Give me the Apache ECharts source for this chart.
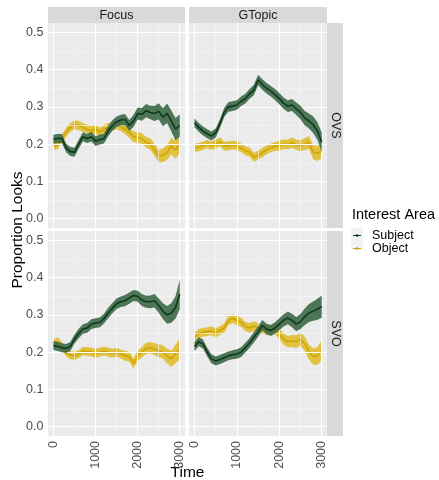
<!DOCTYPE html>
<html>
<head>
<meta charset="utf-8">
<script src="https://cdn.jsdelivr.net/npm/echarts@6/dist/echarts.min.js"></script>
<style>
html,body{margin:0;padding:0;background:#fff;}
#chart{width:439px;height:480px;}
</style>
</head>
<body>
<div id="chart"></div>
<script>
// ---- data ----
const times = [0,100,200,300,400,500,600,700,800,900,1000,1100,1200,1300,1400,1500,1600,1700,1800,1900,2000,2100,2200,2300,2400,2500,2600,2700,2800,2900,3000];
const columnsLabels = ['Focus', 'GTopic'];
const rowLabels = ['OVS', 'SVO'];
const seriesNames = ['Subject', 'Object'];
const xTickValues = [0, 1000, 2000, 3000];
const yTickValues = [0, 0.1, 0.2, 0.3, 0.4, 0.5];
const xMinorValues = [500, 1500, 2500];
const yMinorValues = [0.05, 0.15, 0.25, 0.35, 0.45];

const focusOVS_subject = [0.213,0.215,0.215,0.190,0.180,0.178,0.200,0.220,0.215,0.220,0.208,0.212,0.215,0.235,0.250,0.260,0.265,0.266,0.250,0.262,0.282,0.280,0.290,0.285,0.282,0.288,0.272,0.283,0.262,0.240,0.250];
const focusOVS_object  = [0.195,0.197,0.215,0.232,0.245,0.252,0.250,0.245,0.240,0.236,0.240,0.232,0.240,0.245,0.248,0.252,0.248,0.240,0.230,0.220,0.218,0.215,0.205,0.200,0.185,0.168,0.170,0.178,0.195,0.185,0.200];
const gtopicOVS_subject = [0.257,0.245,0.235,0.228,0.222,0.230,0.255,0.285,0.300,0.302,0.305,0.315,0.322,0.335,0.345,0.372,0.360,0.350,0.342,0.333,0.322,0.310,0.302,0.305,0.295,0.285,0.270,0.262,0.252,0.235,0.205];
const gtopicOVS_object  = [0.190,0.192,0.196,0.200,0.196,0.200,0.206,0.195,0.195,0.198,0.196,0.190,0.182,0.178,0.165,0.170,0.177,0.185,0.190,0.194,0.196,0.200,0.199,0.204,0.198,0.196,0.200,0.205,0.178,0.175,0.182];
const focusSVO_subject = [0.218,0.215,0.212,0.210,0.215,0.235,0.250,0.262,0.265,0.275,0.278,0.280,0.290,0.305,0.318,0.330,0.335,0.338,0.345,0.352,0.350,0.340,0.335,0.335,0.338,0.325,0.310,0.300,0.305,0.320,0.355];
const focusSVO_object  = [0.222,0.228,0.215,0.200,0.192,0.190,0.195,0.203,0.202,0.200,0.197,0.200,0.203,0.200,0.197,0.200,0.195,0.190,0.188,0.170,0.190,0.200,0.210,0.212,0.208,0.204,0.200,0.190,0.182,0.195,0.208];
const gtopicSVO_subject = [0.215,0.228,0.222,0.200,0.182,0.176,0.180,0.185,0.190,0.193,0.195,0.200,0.212,0.225,0.240,0.255,0.272,0.262,0.258,0.265,0.275,0.285,0.292,0.285,0.275,0.282,0.295,0.305,0.310,0.315,0.322];
const gtopicSVO_object  = [0.240,0.250,0.253,0.255,0.257,0.252,0.258,0.265,0.285,0.290,0.285,0.280,0.268,0.265,0.270,0.265,0.262,0.258,0.260,0.262,0.250,0.235,0.228,0.230,0.228,0.235,0.222,0.200,0.188,0.190,0.205];

// ribbon half-widths
const focusOVS_subject_hw = [0.012,0.012,0.012,0.012,0.012,0.012,0.012,0.012,0.012,0.013,0.013,0.013,0.013,0.014,0.014,0.014,0.014,0.015,0.015,0.016,0.016,0.017,0.018,0.018,0.020,0.022,0.024,0.026,0.028,0.030,0.030];
const focusOVS_object_hw  = [0.011,0.011,0.011,0.012,0.012,0.012,0.012,0.012,0.012,0.012,0.012,0.012,0.012,0.012,0.012,0.013,0.013,0.013,0.013,0.014,0.014,0.014,0.015,0.015,0.016,0.017,0.018,0.020,0.022,0.024,0.024];
const gtopicOVS_subject_hw = [0.012,0.012,0.012,0.012,0.012,0.012,0.012,0.012,0.013,0.013,0.013,0.013,0.013,0.013,0.014,0.014,0.014,0.014,0.014,0.015,0.015,0.015,0.016,0.016,0.017,0.018,0.019,0.020,0.022,0.024,0.026];
const gtopicOVS_object_hw  = [0.011,0.011,0.011,0.011,0.011,0.012,0.012,0.012,0.012,0.012,0.012,0.012,0.012,0.012,0.012,0.012,0.012,0.012,0.012,0.012,0.013,0.013,0.013,0.014,0.014,0.015,0.016,0.017,0.019,0.020,0.020];
const focusSVO_subject_hw = [0.012,0.012,0.012,0.012,0.012,0.012,0.013,0.013,0.013,0.013,0.013,0.013,0.013,0.014,0.014,0.014,0.014,0.015,0.015,0.015,0.015,0.016,0.016,0.017,0.018,0.019,0.021,0.024,0.026,0.030,0.040];
const focusSVO_object_hw  = [0.012,0.012,0.012,0.011,0.011,0.011,0.011,0.011,0.012,0.012,0.012,0.012,0.012,0.012,0.012,0.012,0.012,0.013,0.013,0.013,0.014,0.014,0.015,0.015,0.016,0.017,0.018,0.020,0.022,0.025,0.028];
const gtopicSVO_subject_hw = [0.012,0.012,0.012,0.012,0.012,0.012,0.012,0.012,0.012,0.012,0.013,0.013,0.013,0.013,0.014,0.014,0.014,0.014,0.015,0.015,0.016,0.016,0.017,0.018,0.019,0.020,0.022,0.024,0.026,0.028,0.030];
const gtopicSVO_object_hw  = [0.012,0.012,0.012,0.012,0.012,0.012,0.012,0.012,0.012,0.012,0.012,0.012,0.012,0.013,0.013,0.013,0.013,0.013,0.013,0.014,0.014,0.015,0.015,0.016,0.017,0.018,0.019,0.020,0.022,0.024,0.026];

const panels = [
  {subject: focusOVS_subject, object: focusOVS_object, subjectHW: focusOVS_subject_hw, objectHW: focusOVS_object_hw},
  {subject: gtopicOVS_subject, object: gtopicOVS_object, subjectHW: gtopicOVS_subject_hw, objectHW: gtopicOVS_object_hw},
  {subject: focusSVO_subject, object: focusSVO_object, subjectHW: focusSVO_subject_hw, objectHW: focusSVO_object_hw},
  {subject: gtopicSVO_subject, object: gtopicSVO_object, subjectHW: gtopicSVO_subject_hw, objectHW: gtopicSVO_object_hw}
];

// ---- style / layout ----
const FONT = 'Liberation Sans, Arial, sans-serif';
const colors = {
  Subject: {line: '#0E3A1A', band: '#3C6848'},
  Object: {line: '#CFA600', band: '#E0BD2E'}
};
const gridBoxes = [
  {left: 48, top: 23, width: 137, height: 205},
  {left: 189, top: 23, width: 138, height: 205},
  {left: 48, top: 231, width: 137, height: 205},
  {left: 189, top: 231, width: 138, height: 205}
];

const grids = gridBoxes.map(b => ({left: b.left, top: b.top, width: b.width, height: b.height, show: true, backgroundColor: '#EBEBEB', borderWidth: 0, containLabel: false}));

const xAxes = gridBoxes.map((b, i) => ({
  type: 'value', gridIndex: i, min: -130, max: 3125,
  axisLine: {show: false},
  splitLine: {show: false},
  axisTick: {show: i >= 2, customValues: xTickValues, length: 3.7, lineStyle: {color: '#333333', width: 1}},
  axisLabel: {show: i >= 2, customValues: xTickValues, rotate: 90, margin: 5, color: '#4D4D4D', fontSize: 12.5, fontFamily: FONT,
    formatter: v => String(v)}
}));
const yAxes = gridBoxes.map((b, i) => ({
  type: 'value', gridIndex: i, min: -0.025, max: 0.525,
  axisLine: {show: false},
  splitLine: {show: false},
  axisTick: {show: i % 2 === 0, customValues: yTickValues, length: 3.7, lineStyle: {color: '#333333', width: 1}},
  axisLabel: {show: i % 2 === 0, customValues: yTickValues, margin: 4.5, color: '#4D4D4D', fontSize: 12.5, fontFamily: FONT,
    formatter: v => v.toFixed(1)}
}));

function ribbonSeries(i, mean, hw, color, z) {
  const rows = times.map((t, k) => [t, mean[k] - hw[k], mean[k] + hw[k]]);
  return {
    type: 'custom', xAxisIndex: i, yAxisIndex: i, silent: true, z: z,
    data: rows,
    encode: {x: 0, y: [1, 2]},
    renderItem: function (params, api) {
      if (params.dataIndex !== 0) return null;
      const upper = rows.map(r => api.coord([r[0], r[2]]));
      const lower = rows.map(r => api.coord([r[0], r[1]])).reverse();
      return {type: 'polygon', shape: {points: upper.concat(lower)}, style: {fill: color, opacity: 0.9}};
    }
  };
}

const series = [];
panels.forEach((p, i) => {
  // gridlines via markLine (through axis scales)
  const md = [];
  xMinorValues.forEach(v => md.push({xAxis: v, lineStyle: {color: '#F7F7F7', width: 0.6, type: 'solid'}}));
  yMinorValues.forEach(v => md.push({yAxis: v, lineStyle: {color: '#F7F7F7', width: 0.6, type: 'solid'}}));
  xTickValues.forEach(v => md.push({xAxis: v, lineStyle: {color: '#FFFFFF', width: 1.1, type: 'solid'}}));
  yTickValues.forEach(v => md.push({yAxis: v, lineStyle: {color: '#FFFFFF', width: 1.1, type: 'solid'}}));
  series.push({
    type: 'line', xAxisIndex: i, yAxisIndex: i, data: [[0, 0]], symbol: 'none', silent: true, z: 1,
    lineStyle: {opacity: 0},
    markLine: {silent: true, symbol: ['none', 'none'], label: {show: false}, animation: false, data: md}
  });
  [['Object', p.object, p.objectHW, 2], ['Subject', p.subject, p.subjectHW, 5]].forEach(([name, mean, hw, z]) => {
    series.push(ribbonSeries(i, mean, hw, colors[name].band, z));
    series.push({
      type: 'line', name: name, xAxisIndex: i, yAxisIndex: i, symbol: 'none', z: z + 1,
      data: times.map((t, k) => [t, mean[k]]),
      itemStyle: {color: colors[name].line},
      lineStyle: {color: colors[name].line, width: 1.6}
    });
  });
});

// strips & titles (graphics)
const graphic = [];
[0, 1].forEach(c => {
  const b = gridBoxes[c];
  graphic.push({type: 'rect', left: b.left, top: 7, shape: {width: b.width, height: 16}, style: {fill: '#D9D9D9'}, silent: true});
  graphic.push({type: 'text', x: b.left + b.width / 2, y: 15.5, style: {text: columnsLabels[c], font: '12.5px ' + FONT, fill: '#1A1A1A', textAlign: 'center', textVerticalAlign: 'middle'}, silent: true});
});
[0, 1].forEach(r => {
  const b = gridBoxes[r * 2 + 1];
  graphic.push({type: 'rect', left: b.left + b.width, top: b.top, shape: {width: 16, height: b.height}, style: {fill: '#D9D9D9'}, silent: true});
  graphic.push({type: 'text', x: b.left + b.width + 8.5, y: b.top + b.height / 2, rotation: -Math.PI / 2,
    style: {text: rowLabels[r], font: '12.5px ' + FONT, fill: '#1A1A1A', textAlign: 'center', textVerticalAlign: 'middle'}, silent: true});
});
graphic.push({type: 'text', x: 187.5, y: 473, style: {text: 'Time', font: '15.5px ' + FONT, fill: '#000', textAlign: 'center', textVerticalAlign: 'middle'}, silent: true});
graphic.push({type: 'text', x: 18, y: 230, rotation: Math.PI / 2, style: {text: 'Proportion Looks', font: '15.5px ' + FONT, fill: '#000', textAlign: 'center', textVerticalAlign: 'middle'}, silent: true});
graphic.push({type: 'text', x: 352, y: 215, style: {text: 'Interest Area', font: '14.5px ' + FONT, fill: '#000', textAlign: 'left', textVerticalAlign: 'middle'}, silent: true});
graphic.push({type: 'rect', left: 351, top: 228, shape: {width: 12, height: 22}, style: {fill: '#F2F2F2'}, silent: true, z: -1});

const keyIcon = 'path://M0,4.4L10,4.4L10,5.6L0,5.6Z M5,3.3A1.7,1.7 0 1,1 4.99,3.3Z';

const option = {
  animation: false,
  backgroundColor: '#FFFFFF',
  grid: grids,
  xAxis: xAxes,
  yAxis: yAxes,
  legend: {
    data: seriesNames.map(n => ({name: n, icon: keyIcon})),
    orient: 'vertical', left: 353, top: 229, itemWidth: 8, itemHeight: 8, itemGap: 0, padding: 0,
    selectedMode: false,
    textStyle: {fontSize: 12.5, fontFamily: FONT, color: '#000', lineHeight: 10, padding: [0, 0, 0, 6]}
  },
  graphic: graphic,
  series: series
};

const chart = echarts.init(document.getElementById('chart'), null, {renderer: 'canvas'});
chart.setOption(option);
</script>
</body>
</html>
